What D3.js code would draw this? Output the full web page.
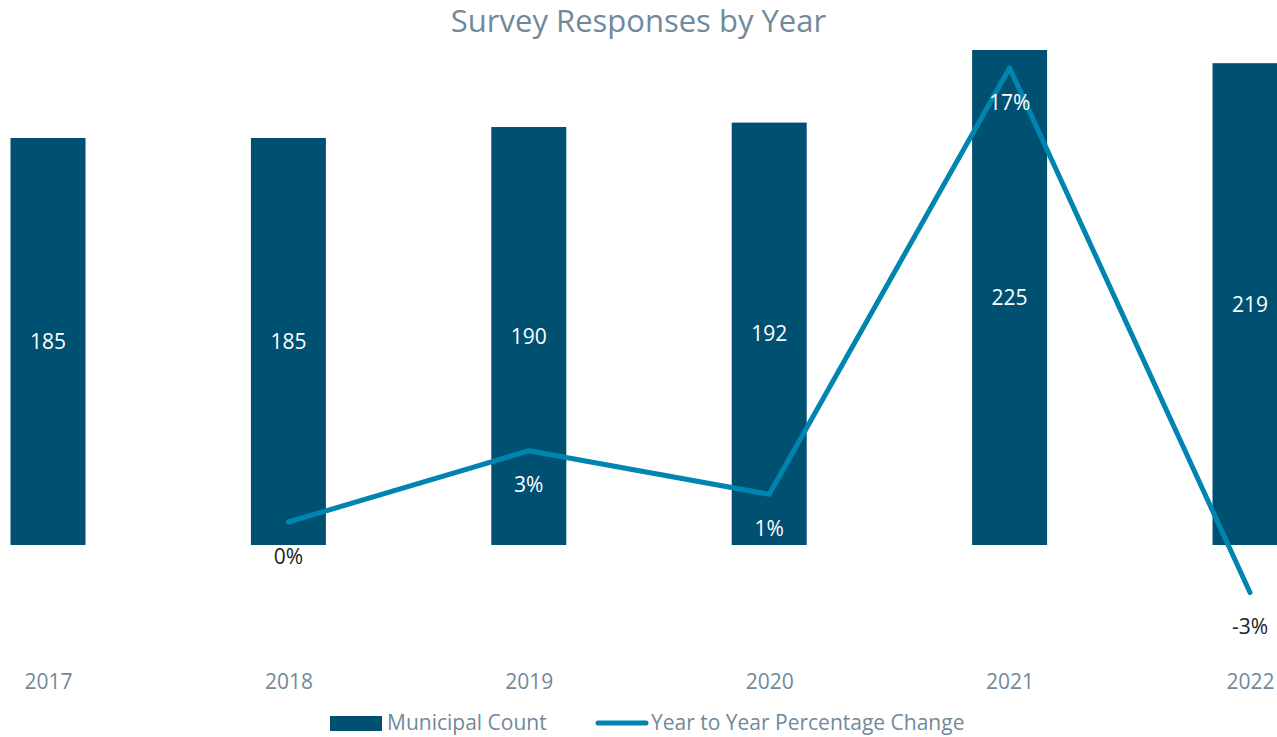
<!DOCTYPE html>
<html>
<head>
<meta charset="utf-8">
<script src="https://cdn.jsdelivr.net/npm/d3@7"></script>
<style>
  body { margin: 0; background: #fff; }
  text { font-family: "Open Sans", Lato, sans-serif; }
</style>
</head>
<body>
<script>
var width = 1277;
var height = 737;

// data
var years = ["2017", "2018", "2019", "2020", "2021", "2022"];
var counts = [185, 185, 190, 192, 225, 219];
var pctChange = [null, 0, 2.7, 1.05, 17.2, -2.67];
var pctLabels = ["", "0%", "3%", "1%", "17%", "-3%"];

var barColor = "#005072";
var lineColor = "#0085b0";
var greyText = "#71899a";
var fontFam = "'Open Sans', Lato, sans-serif";

var svg = d3.select("body").append("svg").attr("width", width).attr("height", height);

var x = d3.scalePoint().domain(years).range([48, 1250]);
var barW = 75;
var y = d3.scaleLinear().domain([0, 225]).range([545, 50]);
var y2 = d3.scaleLinear().domain([0, 17.2]).range([522, 68]);

// title
svg.append("text")
  .attr("x", width / 2).attr("y", 32)
  .attr("text-anchor", "middle")
  .attr("font-size", 31).attr("fill", greyText)
  .text("Survey Responses by Year");

var rows = years.map(function (yr, i) {
  return { year: yr, count: counts[i], pct: pctChange[i], label: pctLabels[i] };
});

// bars
svg.append("g").selectAll("rect")
  .data(rows).enter().append("rect")
  .attr("x", function (d) { return x(d.year) - barW / 2; })
  .attr("y", function (d) { return y(d.count); })
  .attr("width", barW)
  .attr("height", function (d) { return y(0) - y(d.count); })
  .attr("fill", barColor);

svg.append("g").selectAll("text")
  .data(rows).enter().append("text")
  .attr("x", function (d) { return x(d.year); })
  .attr("y", function (d) { return (y(d.count) + y(0)) / 2 + 2; })
  .attr("text-anchor", "middle").attr("dominant-baseline", "middle")
  .attr("font-size", 21).attr("fill", "#fff")
  .text(function (d) { return d.count; });

// line
var linePts = rows.filter(function (d) { return d.pct !== null; });
var line = d3.line()
  .x(function (d) { return x(d.year); })
  .y(function (d) { return y2(d.pct); });

svg.append("path")
  .datum(linePts)
  .attr("d", line)
  .attr("fill", "none")
  .attr("stroke", lineColor)
  .attr("stroke-width", 5)
  .attr("stroke-linecap", "round")
  .attr("stroke-linejoin", "round");

svg.append("g").selectAll("text")
  .data(linePts).enter().append("text")
  .attr("x", function (d) { return x(d.year); })
  .attr("y", function (d) { return y2(d.pct) + 36; })
  .attr("text-anchor", "middle").attr("dominant-baseline", "middle")
  .attr("font-size", 21)
  .attr("fill", function (d) { return y2(d.pct) + 36 < y(0) ? "#fff" : "#222"; })
  .text(function (d) { return d.label; });

// x axis labels
var xAxis = d3.axisBottom(x).tickSize(0).tickPadding(0);
var gx = svg.append("g").attr("transform", "translate(0,674)").call(xAxis);
gx.select(".domain").remove();
gx.selectAll("text")
  .attr("font-size", 21).attr("fill", greyText)
  .attr("font-family", fontFam);

// legend
var leg = svg.append("g");
leg.append("rect").attr("x", 330).attr("y", 716).attr("width", 52).attr("height", 15).attr("fill", barColor);
leg.append("text").attr("x", 387).attr("y", 724).attr("dominant-baseline", "middle")
  .attr("font-size", 21).attr("fill", greyText).text("Municipal Count");
leg.append("line").attr("x1", 598).attr("x2", 646).attr("y1", 723).attr("y2", 723)
  .attr("stroke", lineColor).attr("stroke-width", 5).attr("stroke-linecap", "round");
leg.append("text").attr("x", 651).attr("y", 724).attr("dominant-baseline", "middle")
  .attr("font-size", 21).attr("fill", greyText).text("Year to Year Percentage Change");
</script>
</body>
</html>
